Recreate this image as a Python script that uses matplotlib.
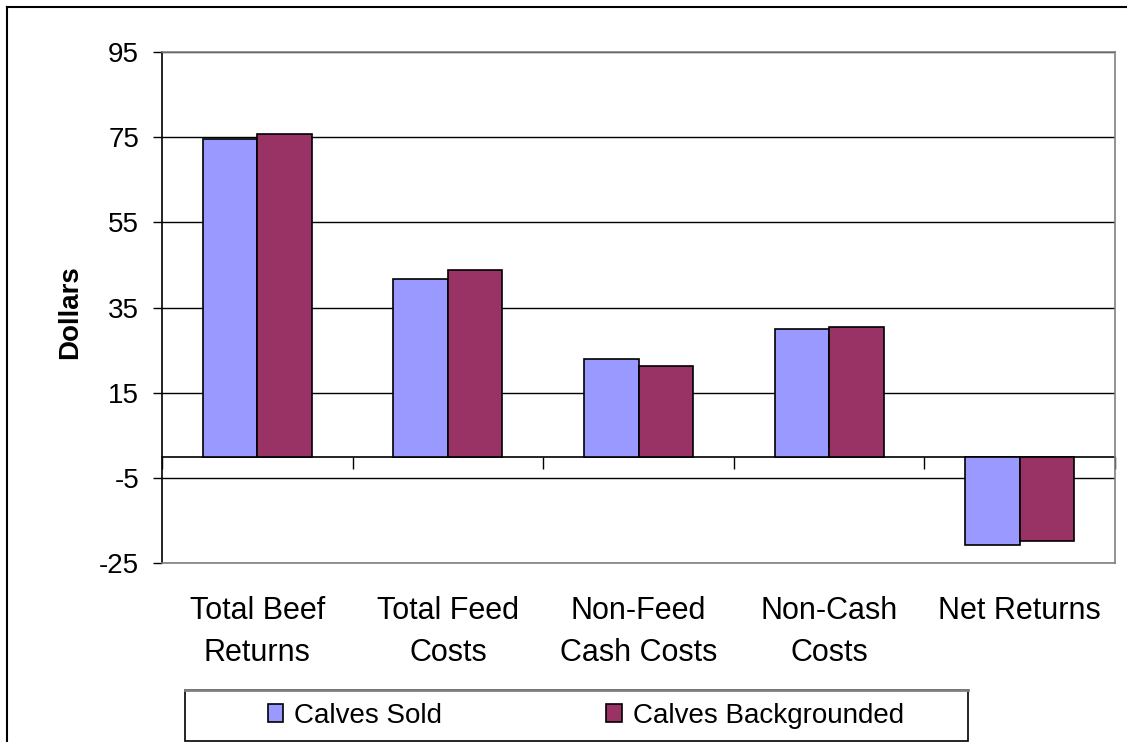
import matplotlib
matplotlib.use("Agg")
import matplotlib.pyplot as plt
from matplotlib.patches import Rectangle
from matplotlib.lines import Line2D
import numpy as np

categories = ["Total Beef\nReturns", "Total Feed\nCosts", "Non-Feed\nCash Costs",
              "Non-Cash\nCosts", "Net Returns"]
calves_sold = [74.5, 41.6, 22.8, 30.0, -20.7]
calves_backgrounded = [75.8, 43.9, 21.2, 30.4, -19.8]
series_names = ["Calves Sold", "Calves Backgrounded"]
yticks = [-25, -5, 15, 35, 55, 75, 95]

plt.rcParams['font.family'] = ['Liberation Sans', 'DejaVu Sans']
plt.rcParams['axes.unicode_minus'] = False

W, H = 1127, 742
fig = plt.figure(figsize=(W / 100, H / 100), dpi=100)
ax = fig.add_axes([162 / W, 1 - 563 / H, (1115 - 162) / W, (563 - 52) / H])

x = np.arange(len(categories))
bw = 0.2857
ax.bar(x - bw / 2, calves_sold, bw, color="#9999FF", edgecolor="black", linewidth=1.2,
       label=series_names[0], zorder=3)
ax.bar(x + bw / 2, calves_backgrounded, bw, color="#993366", edgecolor="black", linewidth=1.2,
       label=series_names[1], zorder=3)

ax.set_xlim(-0.5, len(categories) - 0.5)
ax.set_ylim(yticks[0], yticks[-1])
ax.set_yticks(yticks)
ax.tick_params(axis='y', direction='out', length=6.5, width=1, pad=10, labelsize=20, color='black')
ax.yaxis.grid(True, color='black', linewidth=1, zorder=0)
ax.set_axisbelow(True)

ax.set_xticks(x)
ax.set_xticklabels(categories, fontsize=22, linespacing=1.5)
ax.tick_params(axis='x', length=0, pad=24)

for s in ['top', 'right', 'bottom']:
    ax.spines[s].set_color('#808080')
    ax.spines[s].set_linewidth(1.2)
ax.spines['left'].set_color('black')
ax.spines['left'].set_linewidth(1.2)

# zero axis with category boundary ticks
y0, y1 = ax.get_ylim()
zero_loc = (0 - y0) / (y1 - y0)
sec = ax.secondary_xaxis(zero_loc)
sec.set_xticks(np.arange(len(categories) + 1) - 0.5)
sec.tick_params(axis='x', direction='out', length=8.6, width=1, labelbottom=False,
                labeltop=False, top=False, bottom=True, color='black')
sec.spines['bottom'].set_color('black')
sec.spines['bottom'].set_linewidth(1.2)
sec.set_xticklabels([])

ax.set_ylabel("Dollars", fontsize=20, fontweight='bold')
ax.yaxis.set_label_coords((83 - 162) / (1115 - 162), (563 - 312) / (563 - 52))

# outer chart frame (top and left visible)
fig.add_artist(Line2D([7 / W, 1.0], [1 - 7 / H, 1 - 7 / H], color='black', linewidth=1.5,
                      transform=fig.transFigure))
fig.add_artist(Line2D([7 / W, 7 / W], [0, 1 - 7 / H], color='black', linewidth=1.5,
                      transform=fig.transFigure))

# legend box
fig.add_artist(Rectangle((185 / W, 1 - 741 / H), (968 - 185) / W, (741 - 690) / H,
                         transform=fig.transFigure, facecolor='white', edgecolor='black',
                         linewidth=1.2))
fig.add_artist(Line2D([185 / W, 968 / W], [1 - 690 / H, 1 - 690 / H], color='#808080',
                      linewidth=2, transform=fig.transFigure))
handles, labels = ax.get_legend_handles_labels()
leg = fig.legend(handles, labels, loc='center', bbox_to_anchor=(586 / W, 1 - 716 / H),
                 ncol=2, frameon=False, fontsize=20, handlelength=0.55, handleheight=0.6,
                 handletextpad=0.4, columnspacing=5.9)

fig.savefig("out.png", dpi=100)
